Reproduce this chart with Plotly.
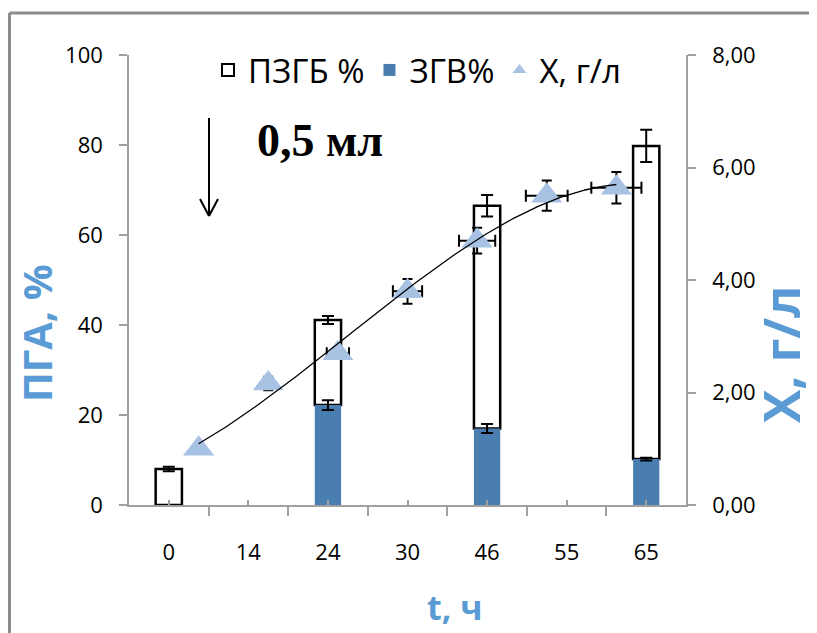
import numpy as np
import plotly.graph_objects as go

# ---- data ----
categories = ["0", "14", "24", "30", "46", "55", "65"]
phb_total = [8.0, None, 41.1, None, 66.5, None, 79.8]      # ПЗГБ %
phb_err = [0.5, None, 0.9, None, 2.4, None, 3.6]
hb3 = [0.0, None, 22.2, None, 17.0, None, 10.2]             # ЗГВ%
hb3_err = [0.0, None, 1.1, None, 1.0, None, 0.3]
bio_pos = [1, 2, 3, 4, 5, 6, 7]
biomass = [1.00, 2.16, 2.70, 3.80, 4.70, 5.50, 5.64]        # X, г/л
bio_err_y = [0.0, 0.12, 0.10, 0.22, 0.23, 0.27, 0.28]
bio_err_x = [0.0, 0.0, 0.16, 0.21, 0.26, 0.30, 0.36]

# page geometry (pixels); the page body adds an 8 px offset
OFF = 8
W, H = 817, 633
PLOT_L, PLOT_R, PLOT_T, PLOT_B = 129, 686, 55, 505
PW, PH = PLOT_R - PLOT_L, PLOT_B - PLOT_T
ML = PLOT_L - OFF
MT = PLOT_T - OFF
MR = W - (PLOT_R - OFF)
MB = H - (PLOT_B - OFF)


def pxx(p):
    return (p - PLOT_L) / PW


def pxy(p):
    return (PLOT_B - p) / PH


idx = list(range(len(categories)))
white_size = [None if t is None else t - (b or 0) for t, b in zip(phb_total, hb3)]
white_base = [None if t is None else (b or 0) for t, b in zip(phb_total, hb3)]

blue = "#4a7eb0"
light = "#a8c2e4"
title_blue = "#5b9bd5"
axis_gray = "#a0a0a0"
tick_font = dict(family="Open Sans", size=22, color="black")

fig = go.Figure()

fig.add_trace(go.Bar(
    x=idx, y=white_size, base=white_base, name="ПЗГБ %", width=0.33,
    marker=dict(color="white", line=dict(color="black", width=2.5)),
    error_y=dict(type="data", array=phb_err, color="black", thickness=2, width=6),
))
fig.add_trace(go.Bar(
    x=idx, y=hb3, name="ЗГВ%", width=0.33,
    marker=dict(color=blue, line=dict(width=0)),
    error_y=dict(type="data", array=hb3_err, color="black", thickness=2, width=6),
))
fig.add_trace(go.Scatter(
    x=bio_pos, y=biomass, name="X, г/л", mode="markers",
    xaxis="x2", yaxis="y2",
    marker=dict(symbol="triangle-up", size=27, color=light, line=dict(width=0)),
    error_y=dict(type="data", array=bio_err_y, color="black", thickness=2, width=5),
    error_x=dict(type="data", array=bio_err_x, color="black", thickness=2, width=6),
))

# polynomial trendline through biomass points
coef = np.polyfit(bio_pos, biomass, 3)
xs = np.linspace(bio_pos[0], bio_pos[-1], 200)
fig.add_trace(go.Scatter(
    x=xs, y=np.polyval(coef, xs), mode="lines", xaxis="x2", yaxis="y2",
    line=dict(color="black", width=1.3), showlegend=False, hoverinfo="skip",
))

fig.update_layout(
    width=W, height=H,
    margin=dict(l=ML, r=MR, t=MT, b=MB, pad=0),
    paper_bgcolor="white", plot_bgcolor="white",
    barmode="overlay",
    separators=", ",
    font=dict(family="Open Sans", color="black"),
    showlegend=True,
    legend=dict(orientation="h", x=pxx(208), y=pxy(70), xanchor="left", yanchor="middle",
                font=dict(family="Open Sans", size=33, color="black"),
                bgcolor="rgba(0,0,0,0)", itemsizing="constant", tracegroupgap=0),
    xaxis=dict(range=[-0.5, 6.5], tickmode="array", tickvals=idx, ticktext=categories,
               showline=True, linecolor=axis_gray, linewidth=1.5, showgrid=False, zeroline=False,
               ticks="inside", ticklen=5, tickwidth=1.5, tickcolor=axis_gray,
               minor=dict(tick0=-0.5, dtick=1, ticks="outside", ticklen=9, tickwidth=1.5,
                          tickcolor=axis_gray, showgrid=False),
               tickfont=tick_font, ticklabelstandoff=27, fixedrange=True),
    xaxis2=dict(range=[0, 8], overlaying="x", visible=False, fixedrange=True),
    yaxis=dict(range=[0, 100], dtick=20, showline=True, linecolor=axis_gray, linewidth=1.5,
               showgrid=False, zeroline=False, ticks="outside", ticklen=8, tickwidth=1.5,
               tickcolor=axis_gray, tickfont=tick_font, ticklabelstandoff=12),
    yaxis2=dict(range=[0, 8], dtick=2, tickformat=".2f", overlaying="y", side="right",
                showline=True, linecolor=axis_gray, linewidth=1.5, showgrid=False, zeroline=False,
                ticks="outside", ticklen=8, tickwidth=1.5, tickcolor=axis_gray,
                tickfont=tick_font, ticklabelstandoff=12),
)

# axis titles
fig.add_annotation(text="<b>ПГА, %</b>", xref="paper", yref="paper", x=pxx(36), y=pxy(333),
                   xanchor="center", yanchor="middle", textangle=-90, showarrow=False,
                   borderpad=0, font=dict(family="Open Sans", size=40, color=title_blue))
fig.add_annotation(text="<b>X, г/л</b>", xref="paper", yref="paper", x=pxx(781), y=pxy(355),
                   xanchor="center", yanchor="middle", textangle=-90, showarrow=False,
                   borderpad=0, font=dict(family="Open Sans", size=50, color=title_blue))
fig.add_annotation(text="<b>t, ч</b>", xref="paper", yref="paper", x=pxx(455), y=pxy(607),
                   xanchor="center", yanchor="middle", showarrow=False,
                   borderpad=0, font=dict(family="Open Sans", size=34, color=title_blue))

# "0,5 мл" label and arrow
fig.add_annotation(text="<b>0,5 мл</b>", xref="paper", yref="paper", x=pxx(320), y=pxy(140),
                   xanchor="center", yanchor="middle", showarrow=False,
                   font=dict(family="Liberation Serif", size=46, color="black"))
arrow = dict(type="line", xref="paper", yref="paper", line=dict(color="black", width=2))
fig.add_shape(**arrow, x0=pxx(209), y0=pxy(118), x1=pxx(209), y1=pxy(216))
fig.add_shape(**arrow, x0=pxx(200), y0=pxy(199), x1=pxx(209), y1=pxy(216))
fig.add_shape(**arrow, x0=pxx(218), y0=pxy(199), x1=pxx(209), y1=pxy(216))

# outer chart border (top and left)
border = dict(type="line", xref="paper", yref="paper", line=dict(color="#8c8c8c", width=3))
fig.add_shape(**border, x0=pxx(9.5), y0=pxy(13), x1=pxx(830), y1=pxy(13))
fig.add_shape(**border, x0=pxx(9.5), y0=pxy(13), x1=pxx(9.5), y1=pxy(650))

fig.write_html("out.html")
